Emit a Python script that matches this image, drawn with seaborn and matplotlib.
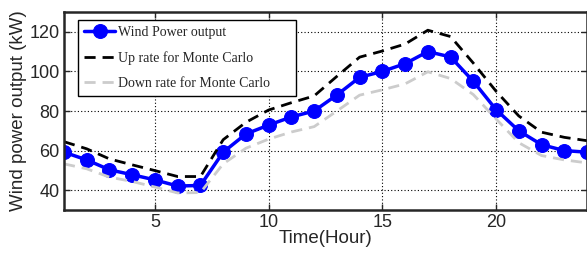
import pandas as pd
import seaborn as sns
import matplotlib.pyplot as plt

# ----- Data -----
hours = list(range(1, 25))
wind_power = [59.2, 55.3, 50.3, 47.8, 45.2, 42.1, 42.4, 59.2, 68.4, 72.9, 77.0, 80.0,
              88.1, 97.0, 100.0, 103.9, 110.0, 107.3, 95.0, 80.7, 70.0, 63.0, 60.0, 59.2]
up_rate = [64.5, 60.9, 55.8, 52.8, 49.9, 46.9, 46.9, 65.5, 74.3, 80.5, 84.2, 87.6,
           97.5, 107.2, 110.3, 113.8, 120.8, 117.6, 104.2, 90.0, 77.5, 69.3, 66.7, 65.0]
down_rate = [53.3, 50.8, 46.6, 44.4, 41.6, 38.6, 38.8, 53.3, 61.2, 65.8, 69.4, 72.1,
             80.0, 88.0, 90.7, 93.7, 99.8, 96.4, 88.3, 76.0, 64.0, 57.5, 55.3, 53.8]

df = pd.DataFrame({"Hour": hours, "Wind": wind_power, "Up": up_rate, "Down": down_rate})

sns.set_style("ticks")
plt.rcParams["font.family"] = ["Liberation Sans", "DejaVu Sans"]

fig = plt.figure(figsize=(5.87, 2.6), dpi=100)
ax = fig.add_axes([64 / 587, 1 - 210 / 260, 523 / 587, 198 / 260])

sns.lineplot(data=df, x="Hour", y="Wind", ax=ax, color="#0000ff", lw=2.5,
             marker="o", markersize=10, markeredgecolor="#0000ff",
             label="Wind Power output")
sns.lineplot(data=df, x="Hour", y="Up", ax=ax, color="black", lw=2,
             linestyle=(0, (4, 2.5)), label="Up rate for Monte Carlo")
sns.lineplot(data=df, x="Hour", y="Down", ax=ax, color="#cccccc", lw=2,
             linestyle=(0, (4, 2.5)), label="Down rate for Monte Carlo")

ax.set_xlim(1, 24)
ax.set_ylim(30, 130)
ax.set_xticks([5, 10, 15, 20])
ax.set_yticks([40, 60, 80, 100, 120])
ax.grid(True, color="black", linestyle=(0, (1, 2)), lw=0.8)
ax.tick_params(direction="in", top=True, right=True, labelsize=13, length=4, width=1, pad=3)
for s in ax.spines.values():
    s.set_linewidth(1.8)

ax.set_xlabel("Time(Hour)", fontsize=13.5, labelpad=-1)
ax.set_ylabel("Wind power output (kW)", fontsize=13.5, labelpad=2)

# MATLAB-like legend box, wider than its text
leg = ax.legend(loc="upper left", bbox_to_anchor=(0.027, 0.4, 0.417, 0.56),
                mode="expand",
                prop={"family": "Liberation Serif", "size": 10},
                frameon=True, fancybox=False, edgecolor="black",
                framealpha=1, handlelength=2.2, handletextpad=0.2,
                borderpad=0.45, borderaxespad=0, labelspacing=0.85)
leg.get_frame().set_linewidth(1)

plt.savefig("out.png", dpi=100)
plt.close()
